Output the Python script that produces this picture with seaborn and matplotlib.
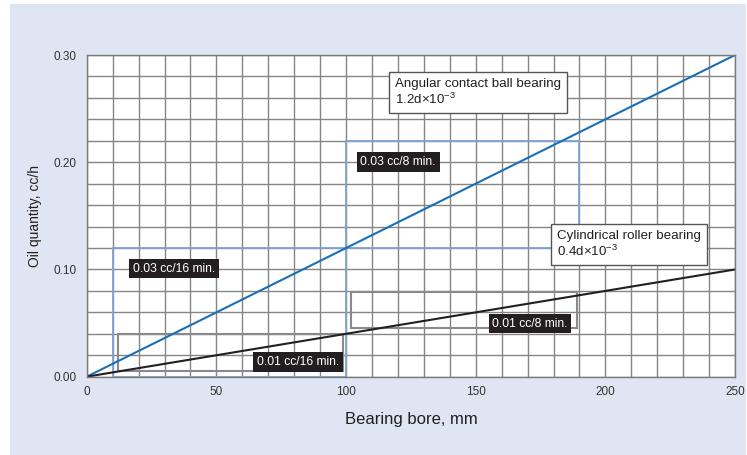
import matplotlib
matplotlib.use('Agg')
import matplotlib.pyplot as plt
from matplotlib.patches import Rectangle
import seaborn as sns
import pandas as pd

sns.set_style('white')
plt.rcParams['font.family'] = ['Liberation Sans', 'DejaVu Sans']
plt.rcParams['mathtext.fontset'] = 'custom'
plt.rcParams['mathtext.rm'] = 'Liberation Sans'
plt.rcParams['mathtext.it'] = 'Liberation Sans:italic'

# bearing bore (mm) and oil quantity (cc/h)
bore = [0, 250]
angular_qty = [0.0, 0.30]
cylindrical_qty = [0.0, 0.10]

# feed ranges: (bore from, bore to, qty from, qty to)
blue_ranges = [(10, 100, 0.0, 0.12), (100, 190, 0.12, 0.22)]
gray_ranges = [(12, 99, 0.005, 0.040), (102, 189, 0.045, 0.079)]
range_labels = ['0.03 cc/16 min.', '0.03 cc/8 min.', '0.01 cc/16 min.', '0.01 cc/8 min.']

x_ticks = [0, 50, 100, 150, 200, 250]
y_ticks = [0.00, 0.10, 0.20, 0.30]

df = pd.DataFrame({
    'bore': bore * 2,
    'qty': angular_qty + cylindrical_qty,
    'type': ['Angular'] * 2 + ['Cylindrical'] * 2,
})

fig = plt.figure(figsize=(7.47, 4.55), dpi=100, facecolor='white')
bg = Rectangle((10 / 747, 0), 736 / 747, 451 / 455, transform=fig.transFigure,
               facecolor='#dfe5f2', edgecolor='none', zorder=-10)
fig.add_artist(bg)
ax = fig.add_axes([0.1161, 0.1721, 0.8679, 0.7070])
ax.set_zorder(1)
ax.set_facecolor('white')

# grid every 10 mm and 0.02 cc/h
for gx in range(0, 251, 10):
    ax.axvline(gx, color='#858585', lw=1.0, zorder=1)
for i in range(16):
    ax.axhline(i * 0.02, color='#858585', lw=1.0, zorder=1)

for x0, x1, y0, y1 in blue_ranges:
    ax.add_patch(Rectangle((x0, y0), x1 - x0, y1 - y0, fill=False,
                           edgecolor='#7fa3d8', lw=1.3, zorder=2))
for x0, x1, y0, y1 in gray_ranges:
    ax.add_patch(Rectangle((x0, y0), x1 - x0, y1 - y0, fill=False,
                           edgecolor='#8a8a8a', lw=1.5, zorder=2))

sns.lineplot(data=df, x='bore', y='qty', hue='type',
             palette={'Angular': '#1b6fb5', 'Cylindrical': '#231f20'},
             lw=1.5, legend=False, ax=ax, zorder=3)

label_pos = [(33.7, 0.1009), (120.1, 0.2003), (81.5, 0.0138), (170.9, 0.0494)]
for txt, (lx, ly) in zip(range_labels, label_pos):
    ax.text(lx, ly, txt, color='white', fontsize=8.7, ha='center', va='center',
            zorder=5, bbox=dict(boxstyle='square,pad=0.3', facecolor='#231f20',
                                edgecolor='none'))

note_kw = dict(fontsize=9.6, color='#231f20', ha='left', va='top', zorder=6,
               linespacing=1.15,
               bbox=dict(boxstyle='square,pad=0.45', facecolor='white',
                         edgecolor='#555555', lw=1.0))
ax.text(119.0, 0.2790, 'Angular contact ball bearing\n1.2d$\\times$10$^{-3}$', **note_kw)
ax.text(181.3, 0.1365, 'Cylindrical roller bearing\n0.4d$\\times$10$^{-3}$', **note_kw)

ax.set_xlim(0, 250)
ax.set_ylim(0, 0.30)
ax.set_xticks(x_ticks)
ax.set_yticks(y_ticks)
ax.set_xticklabels([str(t) for t in x_ticks])
ax.set_yticklabels(['%.2f' % t for t in y_ticks])
ax.tick_params(axis='y', length=0, labelsize=8.5, colors='#333333', pad=7.5)
ax.tick_params(axis='x', length=0, labelsize=8.5, colors='#333333', pad=7)
for sp in ax.spines.values():
    sp.set_color('#7a7a7a')
    sp.set_linewidth(1.0)
    sp.set_zorder(4)

ax.set_xlabel('Bearing bore, mm', fontsize=12, color='#231f20', labelpad=10)
ax.set_ylabel('Oil quantity, cc/h', fontsize=10, color='#231f20', labelpad=8)

fig.savefig('out.png', dpi=100, facecolor='white')
